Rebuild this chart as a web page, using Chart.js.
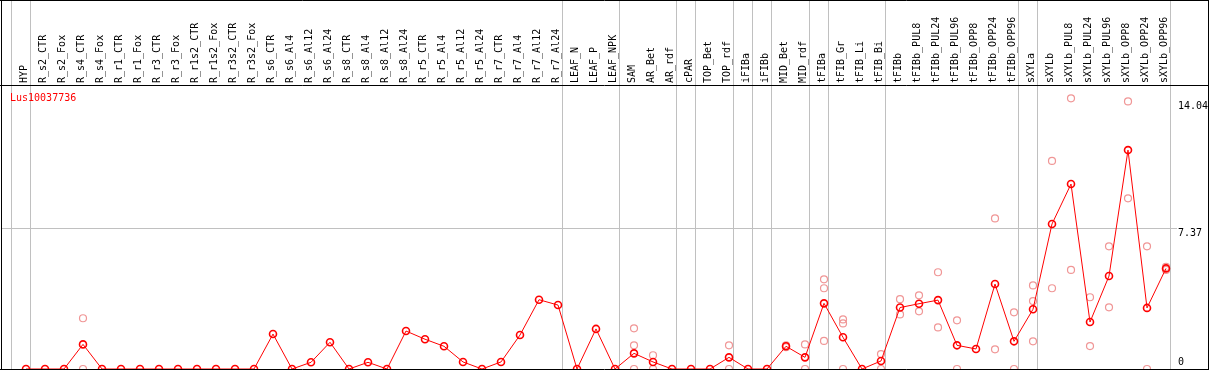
<!DOCTYPE html>
<html lang="en">
<head>
    <meta charset="UTF-8">
    <title>Lus10037736</title>
    <script src="https://cdn.jsdelivr.net/npm/chart.js"></script>
    <style>
        body { margin: 0; background: #fff; }
    </style>
</head>
<body>
<canvas id="geneChart" width="1209" height="370"></canvas>
<script>
const geneName = 'Lus10037736';

const sampleLabels = [
    'HYP', 'R_s2_CTR', 'R_s2_Fox', 'R_s4_CTR', 'R_s4_Fox', 'R_r1_CTR', 'R_r1_Fox',
    'R_r3_CTR', 'R_r3_Fox', 'R_r1s2_CTR', 'R_r1s2_Fox', 'R_r3s2_CTR', 'R_r3s2_Fox',
    'R_s6_CTR', 'R_s6_Al4', 'R_s6_Al12', 'R_s6_Al24', 'R_s8_CTR', 'R_s8_Al4', 'R_s8_Al12',
    'R_s8_Al24', 'R_r5_CTR', 'R_r5_Al4', 'R_r5_Al12', 'R_r5_Al24', 'R_r7_CTR', 'R_r7_Al4',
    'R_r7_Al12', 'R_r7_Al24', 'LEAF_N', 'LEAF_P', 'LEAF_NPK', 'SAM', 'AR_Bet', 'AR_rdf',
    'cPAR', 'TOP_Bet', 'TOP_rdf', 'iFIBa', 'iFIBb', 'MID_Bet', 'MID_rdf', 'tFIBa',
    'tFIB_Gr', 'tFIB_Li', 'tFIB_Bi', 'tFIBb', 'tFIBb_PUL8', 'tFIBb_PUL24', 'tFIBb_PUL96',
    'tFIBb_OPP8', 'tFIBb_OPP24', 'tFIBb_OPP96', 'sXYLa', 'sXYLb', 'sXYLb_PUL8',
    'sXYLb_PUL24', 'sXYLb_PUL96', 'sXYLb_OPP8', 'sXYLb_OPP24', 'sXYLb_OPP96'
];

// mean expression per sample (red line)
const meanValues = [
    0, 0, 0, 1.29, 0, 0, 0, 0, 0, 0, 0, 0, 0,
    1.83, 0, 0.35, 1.40, 0, 0.35, 0, 1.99, 1.56, 1.19, 0.37, 0, 0.37, 1.78, 3.63, 3.35,
    0, 2.10, 0, 0.82, 0.37, 0, 0, 0, 0.61, 0, 0, 1.19, 0.61, 3.44,
    1.66, 0, 0.42, 3.22, 3.42, 3.61, 1.24, 1.05, 4.45, 1.45,
    3.13, 7.60, 9.69, 2.46, 4.87, 11.47, 3.20, 5.27
];

// individual replicates (pink circles), one list per sample
const replicateValues = [
    [], [], [], [2.66, 0], [], [], [], [], [], [], [], [], [],
    [], [], [], [], [], [], [], [], [], [], [], [], [], [], [], [],
    [], [], [], [2.13, 1.24, 0], [0.72, 0], [], [], [], [1.24, 0], [], [], [1.24, 1.14], [1.29, 0], [4.70, 4.23, 1.47],
    [2.60, 2.39, 0], [], [0.78, 0], [3.66, 2.86], [3.86, 3.02], [5.07, 2.18], [2.55, 0], [], [7.89, 1.03], [2.97, 0],
    [4.38, 3.56, 1.45], [10.90, 4.23], [14.18, 5.19], [3.76, 1.20], [6.43, 3.23], [14.02, 8.94], [6.43, 0], [5.35, 5.19]
];

// last sample index of each tissue group (separator drawn just after it)
const groupEnds = [-1, 0, 28, 31, 34, 35, 37, 38, 39, 41, 42, 45, 52, 53, 60];
const yTickValues = [0, 7.37, 14.04];
const yGridValue = 7.37;

const monoFont = '10px "DejaVu Sans Mono", monospace';

const meanPoints = meanValues.map((v, i) => ({x: i, y: v}));
const replicatePoints = [];
replicateValues.forEach((reps, i) => reps.forEach(v => replicatePoints.push({x: i, y: v})));

const frame = {
    id: 'frame',
    beforeDatasetsDraw(chart) {
        const {ctx, chartArea, scales} = chart;
        const x = scales.x, y = scales.y;
        ctx.save();
        ctx.lineWidth = 1;
        ctx.strokeStyle = '#c0c0c0';
        // group separators
        groupEnds.forEach(g => {
            const px = Math.floor(x.getPixelForValue(g + 0.25)) + 0.5;
            ctx.beginPath();
            ctx.moveTo(px, 1);
            ctx.lineTo(px, chartArea.bottom);
            ctx.stroke();
        });
        // horizontal guide
        const gy = Math.floor(y.getPixelForValue(yGridValue)) + 0.5;
        ctx.beginPath();
        ctx.moveTo(chartArea.left, gy);
        ctx.lineTo(1177, gy);
        ctx.stroke();

        ctx.font = monoFont;
        ctx.fillStyle = '#ff0000';
        ctx.textBaseline = 'alphabetic';
        ctx.fillText(geneName, 10, 101);

        ctx.fillStyle = '#000';
        yTickValues.forEach(v => {
            const py = y.getPixelForValue(v);
            ctx.fillText(String(v), 1178, v === 0 ? py - 4 : py + 8);
        });
        ctx.restore();
    },
    afterDraw(chart) {
        const {ctx, chartArea} = chart;
        ctx.save();
        ctx.strokeStyle = '#000';
        ctx.lineWidth = 1;
        ctx.beginPath();
        ctx.moveTo(1.5, 0); ctx.lineTo(1.5, 370);
        ctx.moveTo(1208.5, 0); ctx.lineTo(1208.5, 370);
        ctx.moveTo(0, 0.5); ctx.lineTo(1209, 0.5);
        ctx.moveTo(0, chartArea.top + 0.5); ctx.lineTo(1209, chartArea.top + 0.5);
        ctx.moveTo(0, chartArea.bottom + 0.5); ctx.lineTo(1209, chartArea.bottom + 0.5);
        ctx.stroke();
        ctx.restore();
    }
};

new Chart(document.getElementById('geneChart'), {
    type: 'line',
    data: {
        datasets: [
            {
                label: 'mean',
                data: meanPoints,
                borderColor: '#ff0000',
                borderWidth: 1,
                pointRadius: 3.5,
                pointBorderWidth: 1.6,
                pointBorderColor: '#ff0000',
                pointBackgroundColor: 'rgba(0,0,0,0)',
                tension: 0
            },
            {
                label: 'replicates',
                data: replicatePoints,
                showLine: false,
                pointRadius: 3.5,
                pointBorderWidth: 1.2,
                pointBorderColor: '#f09696',
                pointBackgroundColor: 'rgba(0,0,0,0)'
            }
        ]
    },
    options: {
        responsive: false,
        animation: false,
        devicePixelRatio: 1,
        layout: {autoPadding: false, padding: {left: 1, right: 1, top: 0, bottom: 1}},
        plugins: {legend: {display: false}, tooltip: {enabled: false}},
        scales: {
            x: {
                type: 'linear',
                position: 'top',
                min: -1.3158,
                max: 62.21,
                afterBuildTicks: axis => {
                    axis.ticks = sampleLabels.map((s, i) => ({value: i}));
                },
                afterFit: axis => {
                    axis.height = 85;
                    axis.paddingLeft = 0;
                    axis.paddingRight = 0;
                },
                ticks: {
                    callback: v => sampleLabels[v],
                    autoSkip: false,
                    minRotation: 90,
                    maxRotation: 90,
                    padding: 2,
                    labelOffset: 10,
                    color: '#000',
                    font: {family: '"DejaVu Sans Mono", monospace', size: 10}
                },
                grid: {display: false, drawTicks: false},
                border: {display: false}
            },
            y: {
                display: false,
                min: 0,
                max: 14.88
            }
        }
    },
    plugins: [frame]
});
</script>
</body>
</html>
